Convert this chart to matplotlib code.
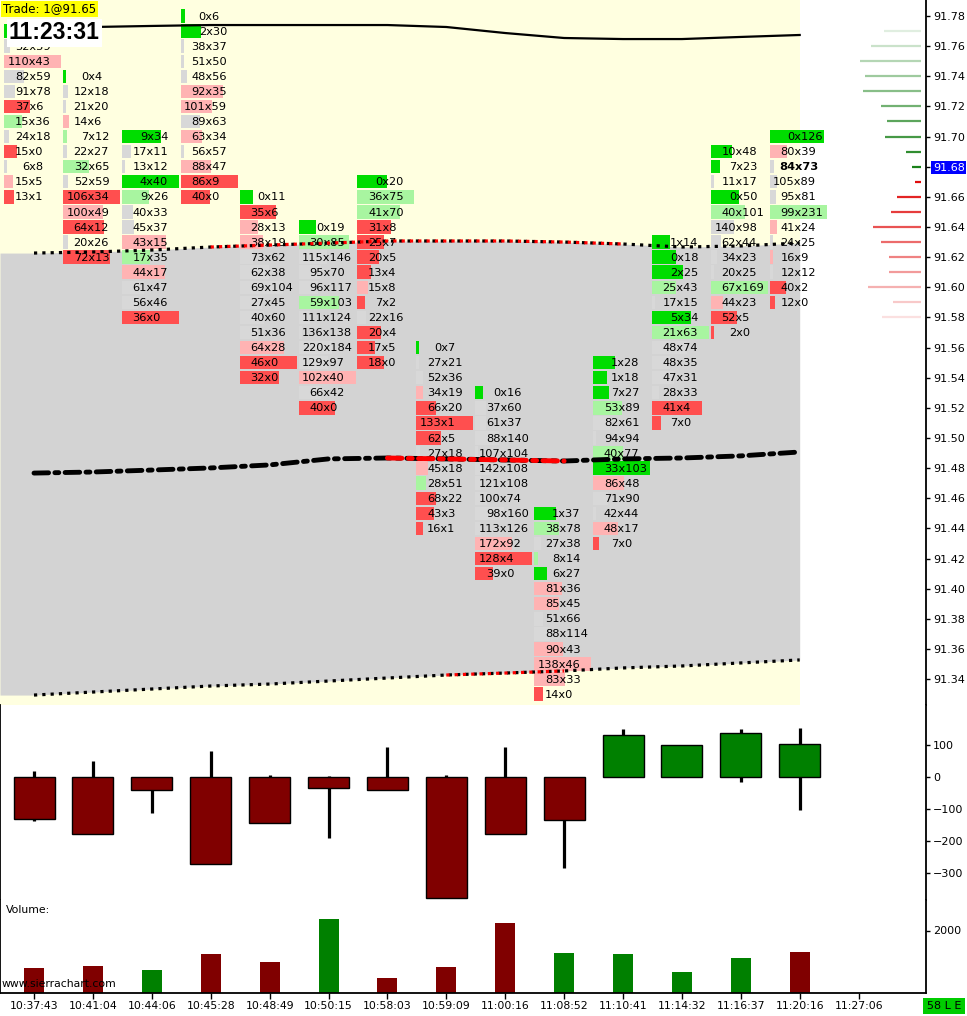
import numpy as np
import matplotlib.pyplot as plt

W, H = 967, 1016

times = ["10:37:43", "10:41:04", "10:44:06", "10:45:28", "10:48:49", "10:50:15",
         "10:58:03", "10:59:09", "11:00:16", "11:08:52", "11:10:41", "11:14:32",
         "11:16:37", "11:20:16", "11:27:06"]

# footprint: price of the top row of each bar, then bid / ask volume per row (top down)
fp_top = [91.77, 91.74, 91.70, 91.78, 91.66, 91.64, 91.67, 91.56, 91.53, 91.45, 91.55, 91.63, 91.69, 91.70]
fp_bid = [
    [0, 52, 110, 82, 91, 37, 15, 24, 15, 6, 15, 13],
    [0, 12, 21, 14, 7, 22, 32, 52, 106, 100, 64, 20, 72],
    [9, 17, 13, 4, 9, 40, 45, 43, 17, 44, 61, 56, 36],
    [0, 2, 38, 51, 48, 92, 101, 89, 63, 56, 88, 86, 40],
    [0, 35, 28, 38, 73, 62, 69, 27, 40, 51, 64, 46, 32],
    [0, 30, 115, 95, 96, 59, 111, 136, 220, 129, 102, 66, 40],
    [0, 36, 41, 31, 25, 20, 13, 15, 7, 22, 20, 17, 18],
    [0, 27, 52, 34, 66, 133, 62, 27, 45, 28, 68, 43, 16],
    [0, 37, 61, 88, 107, 142, 121, 100, 98, 113, 172, 128, 39],
    [1, 38, 27, 8, 6, 81, 85, 51, 88, 90, 138, 83, 14],
    [1, 1, 7, 53, 82, 94, 40, 33, 86, 71, 42, 48, 7],
    [1, 0, 2, 25, 17, 5, 21, 48, 48, 47, 28, 41, 7],
    [10, 7, 11, 0, 40, 140, 62, 34, 20, 67, 44, 52, 2],
    [0, 80, 84, 105, 95, 99, 41, 24, 16, 12, 40, 12],
]
fp_ask = [
    [16, 59, 43, 59, 78, 6, 36, 18, 0, 8, 5, 1],
    [4, 18, 20, 6, 12, 27, 65, 59, 34, 49, 12, 26, 13],
    [34, 11, 12, 40, 26, 33, 37, 15, 35, 17, 47, 46, 0],
    [6, 30, 37, 50, 56, 35, 59, 63, 34, 57, 47, 9, 0],
    [11, 6, 13, 19, 62, 38, 104, 45, 60, 36, 28, 0, 0],
    [19, 85, 146, 70, 117, 103, 124, 138, 184, 97, 40, 42, 0],
    [20, 75, 70, 8, 7, 5, 4, 8, 2, 16, 4, 5, 0],
    [7, 21, 36, 19, 20, 1, 5, 18, 18, 51, 22, 3, 1],
    [16, 60, 37, 140, 104, 108, 108, 74, 160, 126, 92, 4, 0],
    [37, 78, 38, 14, 27, 36, 45, 66, 114, 43, 46, 33, 0],
    [28, 18, 27, 89, 61, 94, 77, 103, 48, 90, 44, 17, 0],
    [14, 18, 25, 43, 15, 34, 63, 74, 35, 31, 33, 4, 0],
    [48, 23, 17, 50, 101, 98, 44, 23, 25, 169, 23, 5, 0],
    [126, 39, 73, 89, 81, 231, 24, 25, 9, 12, 2, 0],
]

delta_close = [-131, -177, -41, -271, -143, -34, -41, -379, -177, -133, 131, 99, 137, 103]
delta_high = [20, 51, 0, 82, 7, 3, 95, 7, 95, 0, 151, 99, 151, 154]
delta_low = [-139, -177, -114, -271, -143, -192, -41, -379, -177, -285, 0, 0, -17, -104]
volume = [789, 867, 747, 1237, 987, 2364, 489, 823, 2235, 1287, 1261, 679, 1115, 1319]
bar_up = [False, False, True, False, False, True, False, False, False, True, True, True, True, False]

# study lines per bar
band_top = [91.7727, 91.7727, 91.7734, 91.7740, 91.7740, 91.7740, 91.7740, 91.7727,
            91.7687, 91.7654, 91.7647, 91.7647, 91.7661, 91.7674]
band_upper = [91.6227, 91.6234, 91.6247, 91.6267, 91.6280, 91.6293, 91.6307, 91.6307,
              91.6307, 91.6300, 91.6287, 91.6267, 91.6274, 91.6294]
vwap = [91.4767, 91.4774, 91.4787, 91.4801, 91.4821, 91.4861, 91.4867, 91.4861,
        91.4854, 91.4847, 91.4861, 91.4867, 91.4881, 91.4907]
band_lower = [91.3294, 91.3314, 91.3334, 91.3354, 91.3367, 91.3387, 91.3407, 91.3427,
              91.3440, 91.3454, 91.3474, 91.3487, 91.3507, 91.3527]

# market depth on the right
depth_ask_price = [91.68, 91.69, 91.70, 91.71, 91.72, 91.73, 91.74, 91.75, 91.76, 91.77]
depth_ask_size = [9, 15, 36, 34, 40, 58, 56, 61, 50, 37]
depth_bid_price = [91.67, 91.66, 91.65, 91.64, 91.63, 91.62, 91.61, 91.60, 91.59, 91.58]
depth_bid_size = [6, 24, 30, 48, 40, 32, 32, 53, 28, 39]

last_price = 91.68
trade_text = "Trade: 1@91.65"
clock_text = "11:23:31"

# pixel layout helpers
PXB = 58.9          # pixels per bar
def px2x(px):
    return (px - 34) / PXB
def py2p(py):
    return 91.78 - (py - 16) / 1507.0

YELLOW = "#FFFFE0"
GRAY = "#D3D3D3"
FONT = 8.2
EM = FONT * 100 / 72   # em size in pixels

fig = plt.figure(figsize=(W / 100, H / 100), dpi=100)
fig.patch.set_facecolor("white")

ax = fig.add_axes([0, 1 - 705 / H, 926 / W, 705 / H])
xl = (px2x(0), px2x(926))
ax.set_xlim(*xl)
ax.set_ylim(py2p(705), py2p(0))
ax.set_facecolor("white")

xs = np.arange(len(fp_top))
last_x = xs[-1]

# background and value band
ax.axvspan(xl[0], last_x, color=YELLOW, zorder=0, lw=0)
xf = np.concatenate([[xl[0]], xs])
lower_f = np.concatenate([[band_lower[0]], band_lower])
upper_f = np.concatenate([[band_upper[0]], band_upper])
ax.fill_between(xf, lower_f, upper_f, color=GRAY, lw=0, zorder=1)


def cell_color(b, a):
    t = a + b
    d = (a - b) / t if t else 0
    if d > 0.5:
        return "#00DD00"
    if d > 0.25:
        return "#A8F5A0"
    if d < -0.5:
        return "#FF4F4F"
    if d < -0.25:
        return "#FFB3B3"
    return "#D8D8D8"


row_h = 0.0089
for i in range(len(fp_top)):
    bids = np.array(fp_bid[i])
    asks = np.array(fp_ask[i])
    prices = fp_top[i] - 0.01 * np.arange(len(bids))
    d = np.abs(asks - bids)
    widths = np.maximum(d / d.max() * 57, 3) / PXB
    left = i - 30 / PXB
    cols = [cell_color(b, a) for b, a in zip(bids, asks)]
    ax.barh(prices, widths, left=left, height=row_h, color=cols, lw=0, zorder=3)
    xc = i + 2 / PXB   # right edge of the "x"
    for p, b, a in zip(prices, bids, asks):
        if i == 0 and p > 91.765:
            continue   # row hidden behind the clock box
        bold = abs(p - last_price) < 1e-6 and i == len(fp_top) - 1
        fw = "bold" if bold else "normal"
        adv = (len(str(b)) * 0.636 + 0.592) * EM * (1.08 if bold else 1.0)
        ax.text(xc - adv / PXB, p - 0.0004, f"{b}x{a}", ha="left", va="center",
                fontsize=FONT, fontweight=fw, zorder=4)

# study lines
ax.plot(xs, band_top, color="black", lw=1.6, zorder=6)
dot = (0, (1, 1.6))
ax.plot(xs, band_upper, color="black", lw=2.3, ls=dot, zorder=6)
ax.plot(xs[3:11], band_upper[3:11], color="red", lw=2.3, ls=dot, zorder=6)
ax.plot(xs, band_lower, color="black", lw=2.3, ls=dot, zorder=6)
ax.plot(xs[7:10], band_lower[7:10], color="red", lw=2.3, ls=dot, zorder=6)
dashdot = (0, (3, 1.3, 0.8, 1.3))
ax.plot(xs, vwap, color="black", lw=3.5, ls=dashdot, dash_capstyle="round", zorder=6)
ax.plot(xs[6:10], vwap[6:10], color="red", lw=3.5, ls=dashdot, dash_capstyle="round", zorder=6)

# market depth
right_end = px2x(921)
n = len(depth_ask_price)
for k, (p, s) in enumerate(zip(depth_ask_price, depth_ask_size)):
    f = 0.1 + 0.78 * k / (n - 1)
    c = (f, 0.45 + 0.55 * f, f)
    ax.plot([right_end - s / PXB, right_end], [p, p], color=c, lw=1.6, solid_capstyle="butt", zorder=5)
for k, (p, s) in enumerate(zip(depth_bid_price, depth_bid_size)):
    f = 0.05 + 0.83 * k / (n - 1)
    c = (0.87 + 0.13 * f, f, f)
    ax.plot([right_end - s / PXB, right_end], [p, p], color=c, lw=1.6, solid_capstyle="butt", zorder=5)

ax.yaxis.tick_right()
ticks = np.round(np.arange(91.34, 91.781, 0.02), 2)
ax.set_yticks(ticks)
ax.set_yticklabels([f"{t:.2f}" for t in ticks])
ax.tick_params(axis="y", length=3, width=1, labelsize=8, pad=2)
ax.set_xticks([])
for s in ["top", "left", "bottom"]:
    ax.spines[s].set_visible(False)
ax.spines["right"].set_linewidth(1.3)
for lab in ax.get_yticklabels():
    if lab.get_text() == f"{last_price:.2f}":
        lab.set_color("white")
        lab.set_bbox(dict(boxstyle="square,pad=0.15", fc="#0000FF", ec="none"))

# delta panel
axd = fig.add_axes([0, 1 - 900 / H, 926 / W, 195 / H])
axd.set_xlim(*xl)
axd.set_ylim(-384.4, 225)
axd.vlines(xs, delta_low, delta_high, color="black", lw=2.3, zorder=2)
axd.bar(xs, delta_close, width=41 / PXB, color=["#008000" if v > 0 else "#800000" for v in delta_close],
        edgecolor="black", lw=1, zorder=3)
axd.yaxis.tick_right()
axd.set_yticks([-300, -200, -100, 0, 100])
axd.tick_params(axis="y", length=3, width=1, labelsize=8, pad=2)
axd.set_xticks([])
for s in ["top", "bottom"]:
    axd.spines[s].set_visible(False)
axd.spines["right"].set_linewidth(1.3)
axd.spines["left"].set_linewidth(1.3)

# volume panel
axv = fig.add_axes([0, 1 - 993 / H, 926 / W, 93 / H])
axv.set_xlim(*xl)
axv.set_ylim(0, 2976)
axv.bar(xs, volume, width=20 / PXB, color=["#008000" if u else "#800000" for u in bar_up], lw=0)
axv.yaxis.tick_right()
axv.set_yticks([2000])
axv.tick_params(axis="y", length=3, width=1, labelsize=8, pad=2)
axv.set_xticks(np.arange(len(times)))
axv.set_xticklabels(times)
axv.tick_params(axis="x", length=4, width=1, labelsize=7.8, pad=2)
axv.spines["top"].set_visible(False)
for s in ["right", "left", "bottom"]:
    axv.spines[s].set_linewidth(1.3)
axv.text(px2x(6), 2650, "Volume:", fontsize=7.8, ha="left", va="center")
axv.text(px2x(2), 300, "www.sierrachart.com", fontsize=7.8, ha="left", va="center")

# overlays
fig.text(3 / W, 1 - 9 / H, trade_text, fontsize=8.5, ha="left", va="center",
         bbox=dict(boxstyle="square,pad=0.15", fc="#FFFF00", ec="none"), zorder=20)
fig.text(9 / W, 1 - 33 / H, clock_text, fontsize=16.5, fontweight="bold", family="Liberation Sans",
         ha="left", va="center", bbox=dict(boxstyle="square,pad=0.1", fc="white", ec="none"), zorder=20)
fig.text(944 / W, 1 - 1006 / H, "58 L E", fontsize=8, ha="center", va="center",
         bbox=dict(boxstyle="square,pad=0.3", fc="#00CC00", ec="none"))

fig.savefig("out.png", dpi=100)
